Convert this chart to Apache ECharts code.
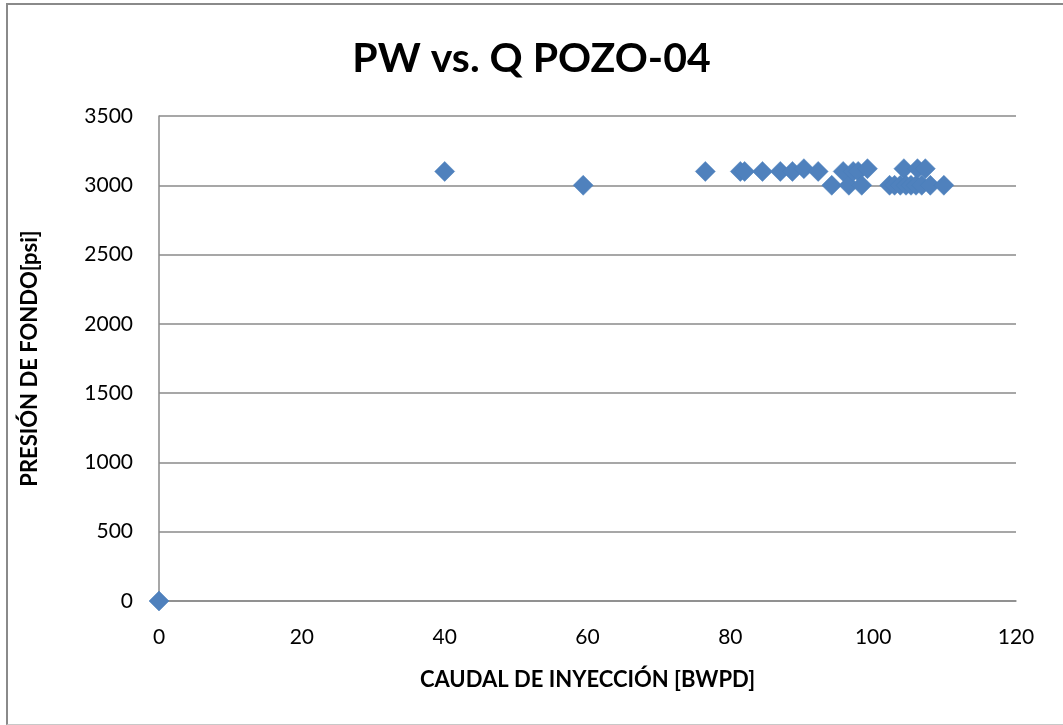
<!DOCTYPE html>
<html>
<head>
<meta charset="utf-8">
<script src="https://cdn.jsdelivr.net/npm/echarts@6/dist/echarts.min.js"></script>
<style>
  html, body { margin: 0; padding: 0; background: #fff; overflow: hidden; }
  #frame {
    position: absolute; left: 6px; top: 3px;
    width: 1100px; height: 722px;
    border-left: 2px solid #8a8a8a; border-top: 2px solid #8a8a8a;
    border-bottom: 1px solid #c8c8c8; box-sizing: border-box;
  }
  #chart { position: absolute; left: 0; top: 0; width: 1063px; height: 725px; }
</style>
</head>
<body>
<div id="frame"></div>
<div id="chart"></div>
<script>
// caudal de inyección [BWPD]
const caudal = [0, 40, 59.4, 76.5, 81.4, 82, 84.5, 87, 88.7, 90.3, 92.3, 94.2, 95.8, 96.6, 97.2, 97.9, 98.4, 99.2,
  102.3, 103, 103.8, 104.3, 104.6, 105.3, 106, 106.2, 106.8, 107.3, 108, 109.9]
// presión de fondo [psi]
const presion = [0, 3100, 3000, 3100, 3100, 3100, 3100, 3100, 3100, 3120, 3100, 3000, 3100, 3000, 3100, 3100, 3000, 3120,
  3000, 3000, 3000, 3120, 3000, 3000, 3000, 3120, 3000, 3120, 3000, 3000]

const font = 'Lato, "Open Sans", sans-serif'

let echart = echarts.init(document.getElementById('chart'))
echart.setOption({
  animation: false,
  title: {
    text: 'PW vs. Q POZO-04',
    left: 'center',
    top: 33,
    textStyle: { fontFamily: font, fontSize: 41, fontWeight: 'bold', color: '#000' }
  },
  grid: { left: 159, right: 47, top: 116, bottom: 124 },
  xAxis: {
    type: 'value',
    min: 0, max: 120, interval: 20,
    name: 'CAUDAL DE INYECCIÓN [BWPD]',
    nameLocation: 'middle',
    nameGap: 68,
    nameTextStyle: { fontFamily: font, fontSize: 22, fontWeight: 'bold', color: '#000' },
    axisLine: { lineStyle: { color: '#8a8a8a', width: 1.5 } },
    axisTick: { show: false },
    axisLabel: { fontFamily: font, fontSize: 21, color: '#000', margin: 26 },
    splitLine: { show: false }
  },
  yAxis: {
    type: 'value',
    min: 0, max: 3500, interval: 500,
    name: 'PRESIÓN DE FONDO[psi]',
    nameLocation: 'middle',
    nameGap: 118,
    nameTextStyle: { fontFamily: font, fontSize: 22, fontWeight: 'bold', color: '#000' },
    axisLine: { show: true, lineStyle: { color: '#8a8a8a', width: 1.5 } },
    axisTick: { show: false },
    axisLabel: { fontFamily: font, fontSize: 21, color: '#000', margin: 26, formatter: v => String(v) },
    splitLine: { lineStyle: { color: '#8a8a8a', width: 1.5 } }
  },
  series: [
    {
      type: 'scatter',
      symbol: 'diamond',
      symbolSize: 20,
      data: caudal.map((q, i) => [q, presion[i]]),
      itemStyle: { color: '#4F81BD', borderColor: '#4A7EBB', borderWidth: 0.5, opacity: 1 }
    }
  ]
})
</script>
</body>
</html>
